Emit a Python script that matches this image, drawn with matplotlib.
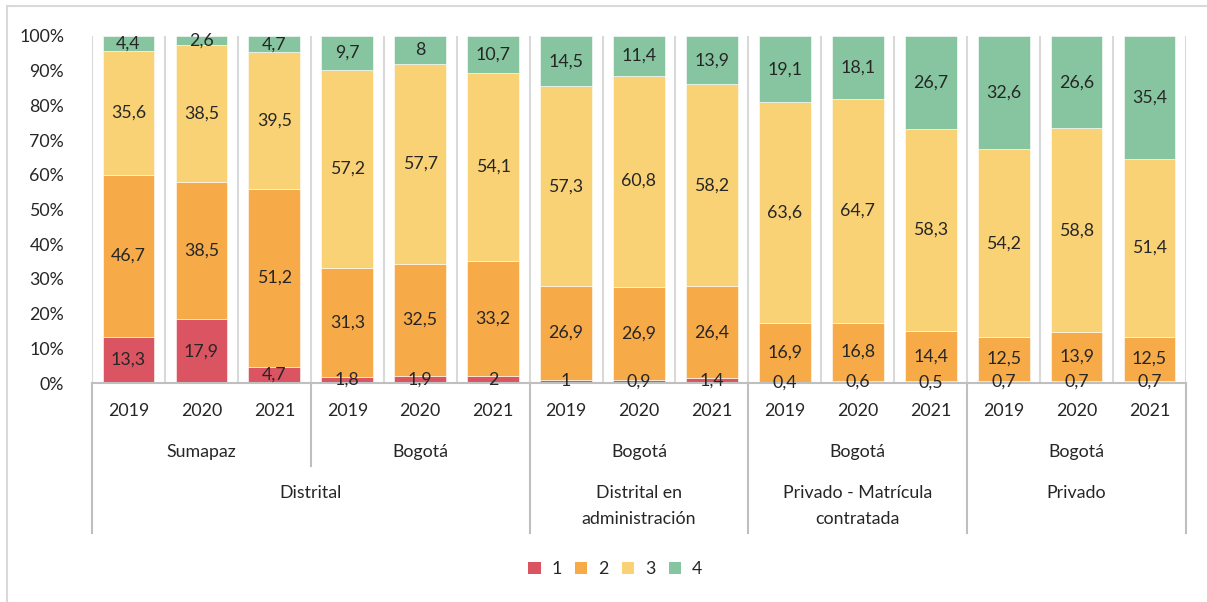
import numpy as np
import matplotlib.pyplot as plt
from matplotlib.patches import Patch
from matplotlib.lines import Line2D

plt.rcParams['font.family'] = ['Lato', 'DejaVu Sans']

years = ['2019', '2020', '2021'] * 5
level2 = ['Sumapaz', 'Bogotá', 'Bogotá', 'Bogotá', 'Bogotá']
level3 = ['Distrital', 'Distrital en\nadministración', 'Privado - Matrícula\ncontratada', 'Privado']

s1 = [13.3, 17.9, 4.7, 1.8, 1.9, 2, 1, 0.9, 1.4, 0.4, 0.6, 0.5, 0.7, 0.7, 0.7]
s2 = [46.7, 38.5, 51.2, 31.3, 32.5, 33.2, 26.9, 26.9, 26.4, 16.9, 16.8, 14.4, 12.5, 13.9, 12.5]
s3 = [35.6, 38.5, 39.5, 57.2, 57.7, 54.1, 57.3, 60.8, 58.2, 63.6, 64.7, 58.3, 54.2, 58.8, 51.4]
s4 = [4.4, 2.6, 4.7, 9.7, 8, 10.7, 14.5, 11.4, 13.9, 19.1, 18.1, 26.7, 32.6, 26.6, 35.4]
series_names = ['1', '2', '3', '4']
colors = ['#DA5462', '#F6AA48', '#F9D275', '#86C59F']

data = np.array([s1, s2, s3, s4])
totals = data.sum(axis=0)
shares = data / totals

txt = '#262626'
grid = '#D9D9D9'
sep = '#BFBFBF'
fs = 12.8

fig = plt.figure(figsize=(12.07, 6.02), dpi=100)
ax = fig.add_axes([92/1207, 1-383/602, (1186-92)/1207, 347/602])

x = np.arange(len(years))
for k in range(16):
    ax.axvline(k - 0.5, color=grid, lw=1.5, zorder=0)

bottom = np.zeros(len(years))
for i in range(4):
    ax.bar(x, shares[i], 0.71, bottom=bottom, color=colors[i], edgecolor='white', lw=0.4, zorder=2)
    for j in range(len(years)):
        ax.text(x[j], bottom[j] + shares[i][j] / 2, f'{data[i][j]:g}'.replace('.', ','),
                ha='center', va='center', fontsize=fs, color=txt, zorder=3)
    bottom += shares[i]

ax.set_xlim(-0.5, len(years) - 0.5)
ax.set_ylim(0, 1)
ax.set_yticks(np.arange(0, 1.01, 0.1))
ax.set_yticklabels([f'{int(round(v*100))}%' for v in np.arange(0, 1.01, 0.1)])
ax.tick_params(axis='y', length=0, labelsize=fs, labelcolor=txt, pad=20)
ax.set_xticks([])
for s in ['top', 'right', 'left']:
    ax.spines[s].set_visible(False)
ax.spines['bottom'].set_color(sep)
ax.spines['bottom'].set_linewidth(1.5)

tr = ax.get_xaxis_transform()
# year labels
for j in range(len(years)):
    ax.text(x[j], -0.081, years[j], ha='center', va='center', fontsize=fs, color=txt, transform=tr)
# level 2
for g in range(5):
    ax.text(3 * g + 1, -0.199, level2[g], ha='center', va='center', fontsize=fs, color=txt, transform=tr)
# level 3
l3_centers = [2.5, 7, 10, 13]
for c, lab in zip(l3_centers, level3):
    ax.text(c, -0.293, lab, ha='center', va='top', fontsize=fs, color=txt, transform=tr, linespacing=1.8)

# separators
for b in [-0.5, 5.5, 8.5, 11.5, 14.5]:
    ax.add_line(Line2D([b, b], [0, -0.432], color=sep, lw=1.5, transform=tr, clip_on=False))
ax.add_line(Line2D([2.5, 2.5], [0, -0.239], color=sep, lw=1.5, transform=tr, clip_on=False))

# chart border
fig.add_artist(Line2D([7/1207, 7/1207], [0, 1-6/602], color=grid, lw=1.5))
fig.add_artist(Line2D([7/1207, 1], [1-6/602, 1-6/602], color=grid, lw=1.5))

handles = [Patch(facecolor=c, label=n) for c, n in zip(colors, series_names)]
fig.legend(handles=handles, loc='center', bbox_to_anchor=(615/1207, 1-569/602), ncol=4,
           frameon=False, fontsize=fs, handlelength=0.7, handleheight=0.7,
           handletextpad=0.6, columnspacing=0.75, labelcolor=txt)

fig.savefig('out.png', dpi=100)
